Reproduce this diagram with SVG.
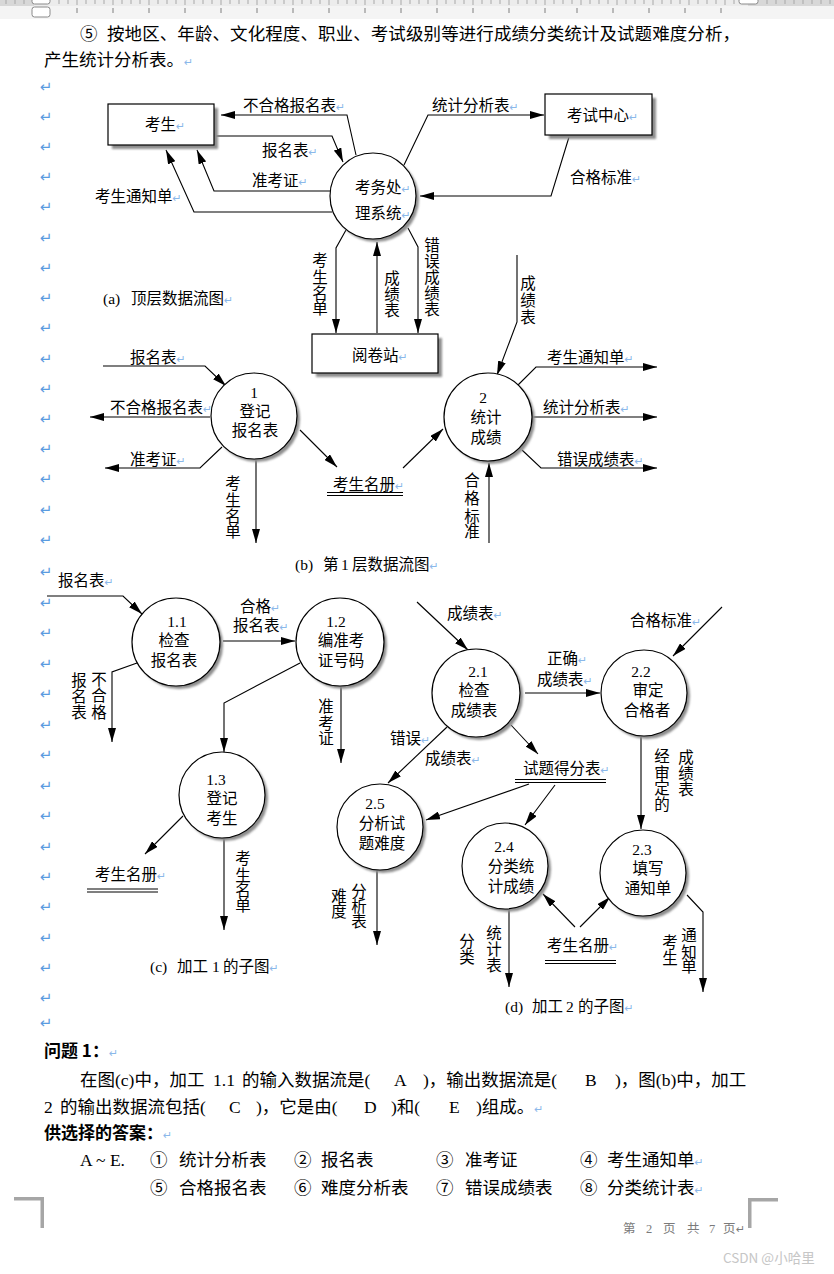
<svg xmlns="http://www.w3.org/2000/svg" width="834" height="1274" viewBox="0 0 834 1274">
<style>
.t{font-family:"Liberation Serif","Noto Sans CJK SC",serif;font-size:15.5px;fill:#000}
.m{text-anchor:middle}
.b{font-family:"Liberation Serif","Noto Sans CJK SC",serif;font-size:17.5px;fill:#000}
.bh{font-family:"Noto Sans CJK SC",sans-serif;font-size:17px;font-weight:bold;fill:#000}
.pm{font-family:"DejaVu Sans",sans-serif;font-size:11px;fill:#8bb8ea}
.lm{font-family:"DejaVu Sans",sans-serif;font-size:15px;fill:#5a9be0;text-anchor:middle}
.ln{fill:none;stroke:#000;stroke-width:1.1}
.ar{marker-end:url(#ah)}
.sh{fill:#8e8e8e;filter:url(#bl)}
.nd{fill:#fff;stroke:#000;stroke-width:1.2}
.ds{stroke:#000;stroke-width:1.2}
.tk{stroke:#a8a8a8;stroke-width:1}
.cm{fill:#a6a6a6}
</style>
<defs>
<marker id="ah" markerWidth="14" markerHeight="8" refX="14" refY="4" orient="auto" markerUnits="userSpaceOnUse"><path d="M0,0 L14,4 L0,8 z" fill="#000"/></marker>
<filter id="bl" x="-10%" y="-10%" width="120%" height="120%"><feGaussianBlur stdDeviation="0.8"/></filter>
</defs>
<rect width="834" height="1274" fill="#fff"/>
<g id="ruler">
<rect x="0" y="0" width="834" height="6" fill="#ececec"/>
<rect x="0" y="0" width="34" height="6" fill="#d8d8d8"/>
<rect x="748" y="0" width="86" height="6" fill="#d8d8d8"/>
<rect x="0" y="6" width="834" height="13" fill="#f4f4f4"/>
<path class="tk" d="M6,0v4M15,0v4M24,0v4M59,0v4M68,0v4M77,0v5M86,0v4M95,0v4M104,0v4M113,0v5M122,0v4M131,0v4M140,0v4M149,0v5M158,0v4M167,0v4M176,0v4M185,0v5M194,0v4M203,0v4M212,0v4M221,0v5M230,0v4M239,0v4M248,0v4M257,0v5M266,0v4M275,0v4M284,0v4M293,0v5M302,0v4M311,0v4M320,0v4M329,0v5M338,0v4M347,0v4M356,0v4M365,0v5M374,0v4M383,0v4M392,0v4M401,0v5M410,0v4M419,0v4M428,0v4M437,0v5M446,0v4M455,0v4M464,0v4M473,0v5M482,0v4M491,0v4M500,0v4M509,0v5M518,0v4M527,0v4M536,0v4M545,0v5M554,0v4M563,0v4M572,0v4M581,0v5M590,0v4M599,0v4M608,0v4M617,0v5M626,0v4M635,0v4M644,0v4M653,0v5M662,0v4M671,0v4M680,0v4M689,0v5M698,0v4M707,0v4M716,0v4M725,0v5M734,0v4M767,0v4M776,0v4M785,0v4M794,0v4M803,0v4M812,0v4M821,0v4M830,0v4"/>
<path stroke="#9a9a9a" stroke-width="1.3" d="M77,8v5M113,8v5M149,8v5M185,8v5M221,8v5M257,8v5M293,8v5M329,8v5M365,8v5M401,8v5M437,8v5M473,8v5M509,8v5M545,8v5M577,8v5M613,8v5M649,8v5M685,8v5M721,8v5"/>
<rect x="32" y="-3" width="18" height="7" rx="2.5" fill="#fff" stroke="#8a8a8a" stroke-width="1"/>
<rect x="32" y="7" width="18" height="10" rx="2.5" fill="#fff" stroke="#8a8a8a" stroke-width="1"/>
<rect x="739" y="-3" width="19" height="7" rx="2.5" fill="#fff" stroke="#8a8a8a" stroke-width="1"/>
</g>
<g id="margin-marks">
<text class="lm" x="46" y="92">↵</text><text class="lm" x="46" y="122">↵</text><text class="lm" x="46" y="152">↵</text><text class="lm" x="46" y="182">↵</text><text class="lm" x="46" y="212">↵</text><text class="lm" x="46" y="243">↵</text><text class="lm" x="46" y="273">↵</text><text class="lm" x="46" y="303">↵</text><text class="lm" x="46" y="333">↵</text><text class="lm" x="46" y="364">↵</text><text class="lm" x="46" y="394">↵</text><text class="lm" x="46" y="424">↵</text><text class="lm" x="46" y="454">↵</text><text class="lm" x="46" y="484">↵</text><text class="lm" x="46" y="515">↵</text><text class="lm" x="46" y="545">↵</text><text class="lm" x="46" y="577">↵</text><text class="lm" x="46" y="608">↵</text><text class="lm" x="46" y="638">↵</text><text class="lm" x="46" y="669">↵</text><text class="lm" x="46" y="699">↵</text><text class="lm" x="46" y="730">↵</text><text class="lm" x="46" y="760">↵</text><text class="lm" x="46" y="791">↵</text><text class="lm" x="46" y="821">↵</text><text class="lm" x="46" y="852">↵</text><text class="lm" x="46" y="882">↵</text><text class="lm" x="46" y="912">↵</text><text class="lm" x="46" y="943">↵</text><text class="lm" x="46" y="973">↵</text><text class="lm" x="46" y="1003">↵</text><text class="lm" x="46" y="1028">↵</text>
</g>
<g id="para-top">
<text class="b" x="80" y="40">⑤</text>
<text class="b" x="107" y="40" textLength="633" lengthAdjust="spacing">按地区、年龄、文化程度、职业、考试级别等进行成绩分类统计及试题难度分析，</text>
<text class="b" x="44" y="66">产生统计分析表。<tspan class="pm" font-size="14px" fill="#5a9be0">↵</tspan></text>
</g>

<g id="connectors-a">
<polyline class="ln ar" points="356,155 347,115 221,115"/>
<polyline class="ln ar" points="216,136 332,136 343,162"/>
<polyline class="ln ar" points="330,191 214,191 197,150"/>
<polyline class="ln ar" points="332,212 194,212 166,150"/>
<polyline class="ln ar" points="404,165 428,115 544,115"/>
<polyline class="ln ar" points="569,137 551,196 420,196"/>
<polyline class="ln ar" points="346,230 336,248 336,333"/>
<polyline class="ln ar" points="377,333 377,242"/>
<polyline class="ln ar" points="408,228 418,247 418,333"/>
</g>
<g id="labels-a">
<text class="t" x="243" y="110.5">不合格报名表<tspan class="pm">↵</tspan></text>
<text class="t" x="262" y="155.5">报名表<tspan class="pm">↵</tspan></text>
<text class="t" x="252" y="185.5">准考证<tspan class="pm">↵</tspan></text>
<text class="t" x="95" y="201.5">考生通知单<tspan class="pm">↵</tspan></text>
<text class="t" x="432" y="110.5">统计分析表<tspan class="pm">↵</tspan></text>
<text class="t" x="570" y="182.5">合格标准<tspan class="pm">↵</tspan></text>
<text class="t m"><tspan x="320" y="265.5">考</tspan><tspan x="320" y="282.5">生</tspan><tspan x="320" y="298.5">名</tspan><tspan x="320" y="313.5">单</tspan></text>
<text class="t m"><tspan x="392" y="283.5">成</tspan><tspan x="392" y="299.5">绩</tspan><tspan x="392" y="315.5">表</tspan></text>
<text class="t m"><tspan x="432" y="250.5">错</tspan><tspan x="432" y="266.5">误</tspan><tspan x="432" y="282.5">成</tspan><tspan x="432" y="298.5">绩</tspan><tspan x="432" y="314.5">表</tspan></text>
<text class="t" x="103" y="303.5">(a)<tspan x="131">顶层数据流图</tspan><tspan class="pm">↵</tspan></text>
</g>
<g id="node-kaosheng">
<rect class="sh" x="112" y="108" width="106" height="41"/>
<rect class="nd" x="108" y="104" width="106" height="41"/>
<text class="t" x="145" y="129.5">考生<tspan class="pm">↵</tspan></text>
</g>
<g id="node-kaoshizhongxin">
<rect class="sh" x="549" y="98" width="107" height="41"/>
<rect class="nd" x="545" y="94" width="107" height="41"/>
<text class="t" x="567" y="120.5">考试中心<tspan class="pm">↵</tspan></text>
</g>
<g id="node-kaowu">
<circle class="sh" cx="376" cy="199" r="43"/>
<circle class="nd" cx="373" cy="196" r="43"/>
<text class="t" x="355" y="192.5">考务处<tspan class="pm">↵</tspan></text>
<text class="t" x="355" y="218.5">理系统<tspan class="pm">↵</tspan></text>
</g>
<g id="node-yuejuan">
<rect class="sh" x="316" y="338" width="126" height="39"/>
<rect class="nd" x="312" y="334" width="126" height="39"/>
<text class="t" x="352" y="360.5">阅卷站<tspan class="pm">↵</tspan></text>
</g>

<g id="connectors-b">
<polyline class="ln ar" points="103,366 205,366 226,386"/>
<polyline class="ln ar" points="210,417 90,417"/>
<polyline class="ln ar" points="222,447 200,468 105,468"/>
<polyline class="ln ar" points="256,460 256,543"/>
<polyline class="ln ar" points="300,430 337,467"/>
<polyline class="ln ar" points="403,468 443,429"/>
<polyline class="ln ar" points="517,255 517,322 497,375"/>
<polyline class="ln ar" points="517,386 536,367 657,367"/>
<polyline class="ln ar" points="533,417 657,417"/>
<polyline class="ln ar" points="522,450 541,468 657,468"/>
<polyline class="ln ar" points="489,543 489,463"/>
</g>
<g id="labels-b">
<text class="t" x="130" y="362.5">报名表<tspan class="pm">↵</tspan></text>
<text class="t" x="110" y="412.5">不合格报名表<tspan class="pm">↵</tspan></text>
<text class="t" x="130" y="464.5">准考证<tspan class="pm">↵</tspan></text>
<text class="t m"><tspan x="233" y="488.5">考</tspan><tspan x="233" y="505.5">生</tspan><tspan x="233" y="521.5">名</tspan><tspan x="233" y="537">单</tspan></text>
<text class="t m"><tspan x="528" y="288.5">成</tspan><tspan x="528" y="305.5">绩</tspan><tspan x="528" y="322.5">表</tspan></text>
<text class="t" x="547" y="362.5">考生通知单<tspan class="pm">↵</tspan></text>
<text class="t" x="543" y="412.5">统计分析表<tspan class="pm">↵</tspan></text>
<text class="t" x="557" y="464.5">错误成绩表<tspan class="pm">↵</tspan></text>
<text class="t m"><tspan x="472" y="486">合</tspan><tspan x="472" y="504">格</tspan><tspan x="472" y="521.5">标</tspan><tspan x="472" y="537">准</tspan></text>
<text class="t" x="295" y="569.5">(b)<tspan x="323">第</tspan><tspan x="341">1</tspan><tspan x="352">层数据流图</tspan><tspan class="pm">↵</tspan></text>
</g>
<g id="node-p1">
<circle class="sh" cx="257" cy="419" r="43"/>
<circle class="nd" cx="254" cy="416" r="43"/>
<text class="t m" x="254" y="397.5">1</text>
<text class="t m" x="255" y="416.5">登记</text>
<text class="t m" x="255" y="436">报名表</text>
</g>
<g id="store-mingce-b">
<text class="t" x="333" y="489.5">考生名册<tspan class="pm">↵</tspan></text>
<path class="ds" d="M327,492.5H403M327,495.5H403"/>
</g>
<g id="node-p2">
<circle class="sh" cx="491" cy="420" r="44"/>
<circle class="nd" cx="488" cy="417" r="44"/>
<text class="t m" x="483" y="402.5">2</text>
<text class="t m" x="486" y="422.5">统计</text>
<text class="t m" x="486" y="442.5">成绩</text>
</g>

<g id="connectors-c">
<polyline class="ln ar" points="47,596 123,596 142,614"/>
<polyline class="ln ar" points="223,641 295,641"/>
<polyline class="ln ar" points="137,663 112,672 112,742"/>
<polyline class="ln ar" points="300,663 224,703 224,752"/>
<polyline class="ln ar" points="341,686 341,763"/>
<polyline class="ln ar" points="183,816 145,854"/>
<polyline class="ln ar" points="224,838 224,930"/>
</g>
<g id="labels-c">
<text class="t" x="58" y="585.5">报名表<tspan class="pm">↵</tspan></text>
<text class="t" x="240" y="611.5">合格<tspan class="pm">↵</tspan></text>
<text class="t" x="233" y="630.5">报名表<tspan class="pm">↵</tspan></text>
<text class="t m"><tspan x="99" y="684.5">不</tspan><tspan x="99" y="700.5">合</tspan><tspan x="99" y="717.5">格</tspan></text>
<text class="t m"><tspan x="79" y="685.5">报</tspan><tspan x="79" y="701.5">名</tspan><tspan x="79" y="717.5">表</tspan></text>
<text class="t m"><tspan x="326" y="712">准</tspan><tspan x="326" y="728.5">考</tspan><tspan x="326" y="744">证</tspan></text>
<text class="t m"><tspan x="243" y="863.5">考</tspan><tspan x="243" y="880.5">生</tspan><tspan x="243" y="896">名</tspan><tspan x="243" y="911">单</tspan></text>
<text class="t" x="150" y="971.5">(c)<tspan x="177">加工</tspan><tspan x="212">1</tspan><tspan x="223">的子图</tspan><tspan class="pm">↵</tspan></text>
</g>
<g id="node-p11">
<circle class="sh" cx="179" cy="645" r="44"/>
<circle class="nd" cx="176" cy="642" r="44"/>
<text class="t m" x="177" y="626.5">1.1</text>
<text class="t m" x="174" y="645.5">检查</text>
<text class="t m" x="174" y="665.5">报名表</text>
</g>
<g id="node-p12">
<circle class="sh" cx="343" cy="645" r="44"/>
<circle class="nd" cx="340" cy="642" r="44"/>
<text class="t m" x="336" y="626.5">1.2</text>
<text class="t m" x="341" y="645.5">编准考</text>
<text class="t m" x="341" y="665.5">证号码</text>
</g>
<g id="node-p13">
<circle class="sh" cx="225" cy="798" r="43"/>
<circle class="nd" cx="222" cy="795" r="43"/>
<text class="t m" x="216" y="784.5">1.3</text>
<text class="t m" x="222" y="803.5">登记</text>
<text class="t m" x="222" y="823.5">考生</text>
</g>
<g id="store-mingce-c">
<text class="t" x="95" y="880">考生名册<tspan class="pm">↵</tspan></text>
<path class="ds" d="M87,889H158M87,892H158"/>
</g>

<g id="connectors-d">
<polyline class="ln ar" points="417,602 468,650"/>
<polyline class="ln ar" points="525,693 600,693"/>
<polyline class="ln ar" points="722,607 673,656"/>
<polyline class="ln ar" points="641,737 641,829"/>
<polyline class="ln ar" points="447,727 388,783"/>
<polyline class="ln ar" points="511,725 538,754"/>
<polyline class="ln ar" points="529,784 426,820"/>
<polyline class="ln ar" points="555,785 525,825"/>
<polyline class="ln ar" points="377,870 377,945"/>
<polyline class="ln ar" points="509,909 509,987"/>
<polyline class="ln ar" points="575,927 543,894"/>
<polyline class="ln ar" points="580,927 610,897"/>
<polyline class="ln ar" points="687,895 703,912 703,992"/>
</g>
<g id="labels-d">
<text class="t" x="447" y="618.5">成绩表<tspan class="pm">↵</tspan></text>
<text class="t" x="547" y="663.5">正确<tspan class="pm">↵</tspan></text>
<text class="t" x="537" y="684.5">成绩表<tspan class="pm">↵</tspan></text>
<text class="t" x="630" y="625.5">合格标准<tspan class="pm">↵</tspan></text>
<text class="t m"><tspan x="662" y="762">经</tspan><tspan x="662" y="778.5">审</tspan><tspan x="662" y="794">定</tspan><tspan x="662" y="810">的</tspan></text>
<text class="t m"><tspan x="686" y="762.5">成</tspan><tspan x="686" y="778.5">绩</tspan><tspan x="686" y="794.5">表</tspan></text>
<text class="t" x="390" y="743.5">错误<tspan class="pm">↵</tspan></text>
<text class="t" x="425" y="763.5">成绩表<tspan class="pm">↵</tspan></text>
<text class="t m"><tspan x="359" y="896.5">分</tspan><tspan x="359" y="911.5">析</tspan><tspan x="359" y="926.5">表</tspan></text>
<text class="t m"><tspan x="339" y="901.5">难</tspan><tspan x="339" y="916.5">度</tspan></text>
<text class="t m"><tspan x="494" y="938.5">统</tspan><tspan x="494" y="954.5">计</tspan><tspan x="494" y="970.5">表</tspan></text>
<text class="t m"><tspan x="467" y="946.5">分</tspan><tspan x="467" y="962.5">类</tspan></text>
<text class="t m"><tspan x="689" y="940.5">通</tspan><tspan x="689" y="957.5">知</tspan><tspan x="689" y="972">单</tspan></text>
<text class="t m"><tspan x="670" y="947.5">考</tspan><tspan x="670" y="963.5">生</tspan></text>
<text class="t" x="505" y="1011.5">(d)<tspan x="532">加工</tspan><tspan x="566">2</tspan><tspan x="578">的子图</tspan><tspan class="pm">↵</tspan></text>
</g>
<g id="node-p21">
<circle class="sh" cx="479" cy="696" r="44"/>
<circle class="nd" cx="476" cy="693" r="44"/>
<text class="t m" x="478" y="676.5">2.1</text>
<text class="t m" x="474" y="695.5">检查</text>
<text class="t m" x="474" y="715.5">成绩表</text>
</g>
<g id="node-p22">
<circle class="sh" cx="647" cy="696" r="43"/>
<circle class="nd" cx="644" cy="693" r="43"/>
<text class="t m" x="641" y="676.5">2.2</text>
<text class="t m" x="648" y="695.5">审定</text>
<text class="t m" x="647" y="715.5">合格者</text>
</g>
<g id="store-defen">
<text class="t" x="523" y="773.5">试题得分表<tspan class="pm">↵</tspan></text>
<path class="ds" d="M515,779.5H606M515,782.5H606"/>
</g>
<g id="node-p25">
<circle class="sh" cx="383" cy="830" r="43"/>
<circle class="nd" cx="380" cy="827" r="43"/>
<text class="t m" x="375" y="808.5">2.5</text>
<text class="t m" x="382" y="828.5">分析试</text>
<text class="t m" x="382" y="848.5">题难度</text>
</g>
<g id="node-p24">
<circle class="sh" cx="508" cy="869" r="43"/>
<circle class="nd" cx="505" cy="866" r="43"/>
<text class="t m" x="504" y="851.5">2.4</text>
<text class="t m" x="511" y="872">分类统</text>
<text class="t m" x="511" y="892">计成绩</text>
</g>
<g id="node-p23">
<circle class="sh" cx="646" cy="876" r="43"/>
<circle class="nd" cx="643" cy="873" r="43"/>
<text class="t m" x="642" y="854.5">2.3</text>
<text class="t m" x="648" y="873.5">填写</text>
<text class="t m" x="648" y="893.5">通知单</text>
</g>
<g id="store-mingce-d">
<text class="t" x="547" y="950.5">考生名册<tspan class="pm">↵</tspan></text>
<path class="ds" d="M545,960.5H616M545,963.5H616"/>
</g>

<g id="question">
<text class="bh" x="44" y="1057">问题 1：<tspan class="pm" font-size="14px" font-weight="normal" fill="#5a9be0">↵</tspan></text>
<text class="b" y="1086"><tspan x="80">在图(c)中，加工</tspan><tspan x="213">1.1</tspan><tspan x="242">的输入数据流是(</tspan><tspan x="394">A</tspan><tspan x="423">)，输出数据流是(</tspan><tspan x="585">B</tspan><tspan x="615">)，图(b)中，加工</tspan></text>
<text class="b" y="1113"><tspan x="44">2</tspan><tspan x="60">的输出数据流包括(</tspan><tspan x="229">C</tspan><tspan x="256">)，它是由(</tspan><tspan x="364">D</tspan><tspan x="391">)和(</tspan><tspan x="449">E</tspan><tspan x="476">)组成。</tspan><tspan class="pm" font-size="14px" fill="#5a9be0">↵</tspan></text>
<text class="bh" x="44" y="1139">供选择的答案：<tspan class="pm" font-size="14px" font-weight="normal" fill="#5a9be0">↵</tspan></text>
<text class="b" y="1166"><tspan x="80">A ~ E.</tspan><tspan x="150">①</tspan><tspan x="179">统计分析表</tspan><tspan x="294">②</tspan><tspan x="321">报名表</tspan><tspan x="436">③</tspan><tspan x="465">准考证</tspan><tspan x="580">④</tspan><tspan x="607">考生通知单</tspan><tspan class="pm" font-size="14px" fill="#5a9be0">↵</tspan></text>
<text class="b" y="1194"><tspan x="150">⑤</tspan><tspan x="179">合格报名表</tspan><tspan x="294">⑥</tspan><tspan x="321">难度分析表</tspan><tspan x="436">⑦</tspan><tspan x="465">错误成绩表</tspan><tspan x="580">⑧</tspan><tspan x="607">分类统计表</tspan><tspan class="pm" font-size="14px" fill="#5a9be0">↵</tspan></text>
</g>

<g id="footer">
<rect class="cm" x="14" y="1197" width="30" height="3.5"/>
<rect class="cm" x="40.5" y="1197" width="3.5" height="31"/>
<rect class="cm" x="748" y="1198" width="30" height="3.5"/>
<rect class="cm" x="748" y="1198" width="3.5" height="30"/>
<text font-family="Liberation Serif,Noto Sans CJK SC,serif" font-size="12.5" fill="#7a7a7a" y="1233"><tspan x="623">第</tspan><tspan x="646">2</tspan><tspan x="663">页</tspan><tspan x="687">共</tspan><tspan x="709">7</tspan><tspan x="723">页</tspan><tspan x="736" font-family="DejaVu Sans" font-size="11">↵</tspan></text>
<text font-family="Noto Sans CJK SC,sans-serif" font-size="13.5" fill="#c6c6c6" x="723" y="1263">CSDN @小哈里</text>
</g>
</svg>
